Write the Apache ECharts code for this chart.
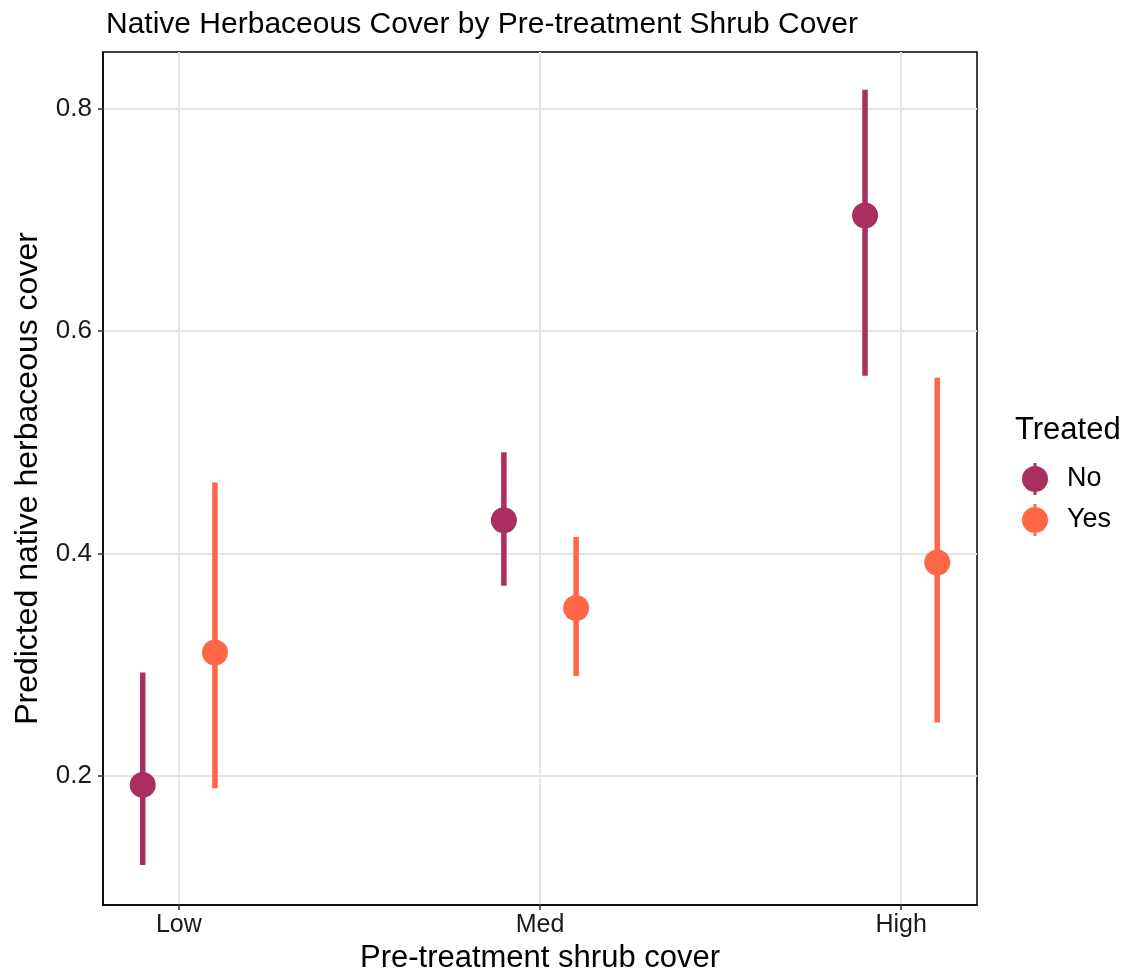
<!DOCTYPE html>
<html><head><meta charset="utf-8">
<script src="https://cdn.jsdelivr.net/npm/echarts@6/dist/echarts.min.js"></script>
<style>html,body{margin:0;padding:0;background:#fff;overflow:hidden}#c{width:1130px;height:968px}</style>
</head><body><div id="c"></div>
<script>
const categories = ['Low', 'Med', 'High'];
const groups = ['No', 'Yes'];
const noMean  = [0.192, 0.430, 0.704];
const noLow   = [0.120, 0.371, 0.560];
const noHigh  = [0.293, 0.491, 0.817];
const yesMean = [0.311, 0.351, 0.392];
const yesLow  = [0.189, 0.290, 0.248];
const yesHigh = [0.464, 0.415, 0.558];
const yTicks = [0.2, 0.4, 0.6, 0.8];

const colors = {No: '#AA2E5F', Yes: '#FF6646'};
const dodge = {No: -0.1, Yes: 0.1};
const FONT = 'Liberation Sans, Helvetica, Arial, sans-serif';
const keyIcon = 'path://M1,16 A13,13 0 1,1 27,16 A13,13 0 1,1 1,16 Z M12.5,0 H15.5 V32 H12.5 Z';

function pts(mean, lo, hi, g) {
  return categories.map((c, i) => [i + 1 + dodge[g], mean[i], lo[i], hi[i]]);
}
const dataNo = pts(noMean, noLow, noHigh, 'No');
const dataYes = pts(yesMean, yesLow, yesHigh, 'Yes');

function errSeries(data, g) {
  return {
    type: 'custom', name: g + '_err', silent: true, z: 3,
    data: data,
    encode: {x: 0, y: [2, 3]},
    renderItem: function (params, api) {
      const x = api.value(0);
      const p1 = api.coord([x, api.value(2)]);
      const p2 = api.coord([x, api.value(3)]);
      return {type: 'line', shape: {x1: p1[0], y1: p1[1], x2: p2[0], y2: p2[1]},
        style: {stroke: colors[g], lineWidth: 5.5}};
    }
  };
}
function ptSeries(data, g) {
  return {
    type: 'scatter', name: g, z: 4, symbol: 'circle', symbolSize: 26,
    data: data.map(d => [d[0], d[1]]),
    itemStyle: {color: colors[g], opacity: 1}
  };
}

const chart = echarts.init(document.getElementById('c'), null, {renderer: 'canvas'});
chart.setOption({
  animation: false,
  backgroundColor: '#fff',
  title: {text: 'Native Herbaceous Cover by Pre-treatment Shrub Cover', left: 101, top: 5,
    textStyle: {fontFamily: FONT, fontSize: 30, fontWeight: 'normal', color: '#000'}},
  grid: {left: 103, right: 153, top: 52, bottom: 63, containLabel: false, outerBoundsMode: 'none',
    show: true, borderColor: '#000', borderWidth: 1.5, backgroundColor: '#fff'},
  legend: {
    data: [{name: 'No', icon: keyIcon}, {name: 'Yes', icon: keyIcon}],
    orient: 'vertical', left: 1022, top: 463, itemWidth: 28, itemHeight: 32, itemGap: 9, padding: 0,
    textStyle: {fontFamily: FONT, fontSize: 27, color: '#000', padding: [0, 0, 0, 13]}
  },
  graphic: [
    {type: 'text', left: 1015, top: 415, style: {text: 'Treated', font: '31px ' + FONT, fill: '#000'}}
  ],
  xAxis: {
    type: 'value', min: 0.79, max: 3.21,
    name: 'Pre-treatment shrub cover', nameLocation: 'middle', nameGap: 34,
    nameTextStyle: {fontFamily: FONT, fontSize: 31, color: '#000'},
    axisLine: {show: true, lineStyle: {color: '#000', width: 1.5}},
    axisTick: {show: true, length: 5, customValues: [1, 2, 3], lineStyle: {color: '#333', width: 1.5}},
    axisLabel: {customValues: [1, 2, 3], formatter: v => categories[Math.round(v) - 1] || '',
      fontFamily: FONT, fontSize: 25, color: '#1a1a1a', margin: 8},
    splitLine: {show: true, lineStyle: {color: '#E5E5E5', width: 2}}
  },
  yAxis: {
    type: 'value', min: 0.084, max: 0.851,
    name: 'Predicted native herbaceous cover', nameLocation: 'middle', nameGap: 59,
    nameTextStyle: {fontFamily: FONT, fontSize: 32, color: '#000'},
    axisLine: {show: true, lineStyle: {color: '#000', width: 1.5}},
    axisTick: {show: true, length: 5, customValues: yTicks, lineStyle: {color: '#333', width: 1.5}},
    axisLabel: {customValues: yTicks, formatter: v => v.toFixed(1),
      fontFamily: FONT, fontSize: 26, color: '#1a1a1a', margin: 11},
    splitLine: {show: true, lineStyle: {color: '#E5E5E5', width: 2}}
  },
  series: [
    errSeries(dataNo, 'No'), errSeries(dataYes, 'Yes'),
    ptSeries(dataNo, 'No'), ptSeries(dataYes, 'Yes')
  ]
});
</script></body></html>
